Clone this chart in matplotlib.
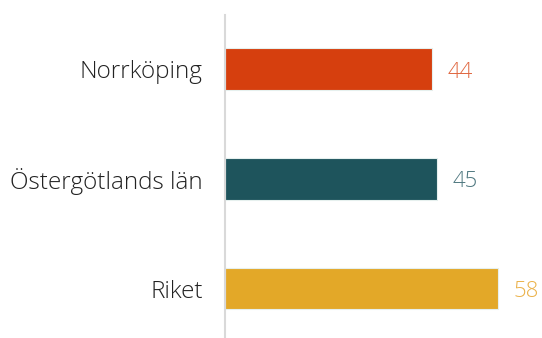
import matplotlib.pyplot as plt

categories = ["Norrköping", "Östergötlands län", "Riket"]
values = [44, 45, 58]
colors = ["#D63F0E", "#1E545C", "#E3A828"]
label_colors = ["#E0663F", "#4F7880", "#EBB24A"]

plt.rcParams['font.family'] = ['Open Sans', 'DejaVu Sans']

fig = plt.figure(figsize=(5.42, 3.38), dpi=100)
ax = fig.add_axes([225 / 542, 0, 1 - 225 / 542, (338 - 15) / 338])

ypos = list(range(len(categories)))
ax.barh(ypos, values, height=0.38, color=colors, edgecolor="#E6F0EE", linewidth=0.8)

for y, v, c in zip(ypos, values, label_colors):
    ax.text(v + 3.3, y + 0.03, str(v), va="center", ha="left", fontsize=16,
            color=c, fontweight="light")

ax.set_xlim(0, 67.4)
ax.set_ylim(2.45, -0.49)
ax.set_yticks(ypos)
ax.set_yticklabels(categories, fontsize=17.5, color="#222222", fontweight="light")
ax.tick_params(axis="y", length=0, pad=16)
ax.set_xticks([])
for s in ["top", "right", "bottom"]:
    ax.spines[s].set_visible(False)
ax.spines["left"].set_color("#D9D9D9")
ax.spines["left"].set_linewidth(1.5)

fig.savefig("out.png", dpi=100)
